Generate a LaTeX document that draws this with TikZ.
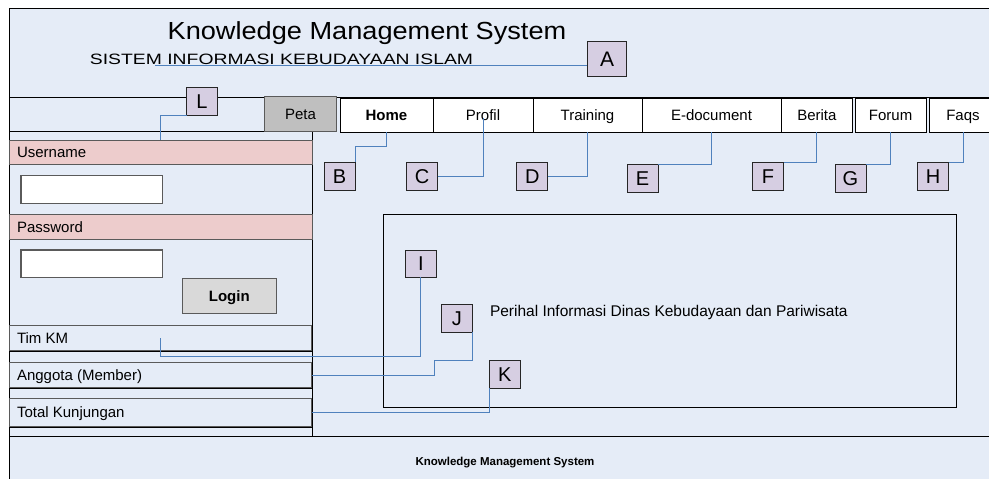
\documentclass[tikz,border=0pt]{standalone}
\usepackage{graphicx}
\usepackage{fontspec}
\setmainfont{Liberation Sans}
\usetikzlibrary{calc}
\definecolor{bgblue}{RGB}{229,236,247}
\definecolor{pinkband}{RGB}{237,204,204}
\definecolor{lav}{RGB}{214,206,226}
\definecolor{petagray}{RGB}{191,191,191}
\definecolor{logingray}{RGB}{217,217,217}
\definecolor{connblue}{RGB}{79,129,189}
\definecolor{edgegray}{RGB}{90,90,90}
\begin{document}
\begin{tikzpicture}[x=1pt,y=-1pt,
  every node/.style={inner sep=0pt, outer sep=0pt},
  txt/.style={font=\fontsize{15}{18}\selectfont, text height=10.7pt, text depth=0pt},
  rule/.style={draw=black, line width=1pt},
  navbox/.style={draw=black, fill=white, line width=0.9pt, minimum height=34pt, txt},
  lbl/.style={draw=black!85, fill=lav, line width=1pt, minimum width=31pt, minimum height=28pt,
              font=\fontsize{20}{20}\selectfont, text height=14.3pt, text depth=0pt},
  conn/.style={draw=connblue, line width=0.9pt},
  band/.style={draw=edgegray, fill=pinkband, line width=1pt, minimum width=303pt, minimum height=24.7pt},
  inbox/.style={draw=edgegray, fill=white, line width=1.2pt, minimum width=141.3pt, minimum height=27.6pt},
  stat/.style={draw=edgegray, line width=1pt, minimum width=302.7pt},
]
\useasboundingbox (0,0) rectangle (989,479);
\clip (0,0) rectangle (989,479);

% frame
\fill[bgblue] (9.3,8.3) rectangle (1000,490);
\draw[rule] (9.3,8.3) rectangle (1000,490);
\draw[rule] (9.3,97.7) -- (989,97.7);
\draw[rule] (9.3,131.7) -- (312,131.7);
\draw[rule] (312,131.7) -- (312,436.7);
\draw[rule] (9.3,436.7) -- (989,436.7);

% header texts
\node[anchor=base, font=\fontsize{24.7}{28}\selectfont] (title) at (367,39.3)
  {\scalebox{1.1}[1]{Knowledge Management System}};
\coordinate (aend) at (155,65.5);
\node[lbl, minimum width=39.4pt, minimum height=35pt, font=\fontsize{21}{21}\selectfont, text height=15pt] (A) at (607,58.5) {A};
\draw[conn] (aend) -- (aend -| A.west);
\node[anchor=base, font=\fontsize{15}{18}\selectfont] (subtitle) at (281.5,64)
  {\scalebox{1.29}[1]{SISTEM INFORMASI KEBUDAYAAN ISLAM}};

% navigation
\node[navbox, fill=petagray, draw=edgegray, minimum width=72.4pt, minimum height=35pt] (peta) at (300.5,114.2) {Peta};
\node[navbox, minimum width=93pt] (home) at (386.5,115) {\bfseries Home};
\node[navbox, minimum width=100pt] (profil) at (483,115) {Profil};
\node[navbox, minimum width=109pt] (training) at (587.5,115) {Training};
\node[navbox, minimum width=139pt] (edoc) at (711.5,115) {E-document};
\node[navbox, minimum width=71.7pt] (berita) at (816.85,115) {Berita};
\node[navbox, minimum width=70.7pt] (forum) at (890.65,115) {Forum};
\node[navbox, minimum width=68pt] (faqs) at (963,115) {Faqs};

% left panel
\node[band] (user) at (160.5,152.35) {};
\node[txt, anchor=west] (usertxt) at ([xshift=8pt]user.west) {Username};
\node[inbox] (userin) at (91.65,189.5) {};
\node[band] (pass) at (160.5,226.65) {};
\node[txt, anchor=west] (passtxt) at ([xshift=8pt]pass.west) {Password};
\node[inbox] (passin) at (91.65,263.85) {};
\node[draw=edgegray, fill=logingray, line width=1.2pt, minimum width=94pt, minimum height=35pt, txt] (login) at (229.3,295.8) {\bfseries Login};

\node[stat, minimum height=24.3pt] (timkm) at (160.35,337.85) {};
\node[txt, anchor=west] (timkmtxt) at ([xshift=8pt]timkm.west) {Tim KM};
\node[stat, minimum height=24.6pt] (anggota) at (160.35,375) {};
\node[txt, anchor=west] (anggotatxt) at ([xshift=8pt]anggota.west) {Anggota (Member)};
\node[stat, minimum height=27.3pt] (total) at (160.35,412.35) {};
\node[txt, anchor=west] (totaltxt) at ([xshift=8pt]total.west) {Total Kunjungan};
\draw[rule] (9.3,351.2) -- (312,351.2);
\draw[rule] (9.3,388.6) -- (312,388.6);
\draw[rule] (9.3,427) -- (312,427);

% content
\node[draw=black, line width=1pt, minimum width=573pt, minimum height=193pt] (content) at (670,310.5) {};
\node[anchor=west, font=\fontsize{15.5}{18}\selectfont, text height=11pt, text depth=0pt] (perihal) at (490,310.5)
  {Perihal Informasi Dinas Kebudayaan dan Pariwisata};

% footer
\node[anchor=base, font=\bfseries\fontsize{11.5}{13}\selectfont] (footer) at (505,465) {Knowledge Management System};

% labels
\node[lbl] (L) at (202,101.3) {L};
\node[lbl] (B) at (339.5,176) {B};
\node[lbl] (C) at (422.2,176) {C};
\node[lbl] (D) at (532.4,176) {D};
\node[lbl, minimum height=27.6pt] (E) at (642.5,178.5) {E};
\node[lbl] (F) at (768,176) {F};
\node[lbl, minimum height=27.6pt] (G) at (850.5,178.5) {G};
\node[lbl] (H) at (933,176) {H};
\node[lbl, minimum width=30.5pt, minimum height=27pt] (I) at (420.8,263.5) {I};
\node[lbl, minimum width=30.5pt] (J) at (456.8,318) {J};
\node[lbl, minimum width=31.4pt] (K) at (504.7,374) {K};

% connectors
\draw[conn] (L.south west) -| (user.north -| 160.7,0);
\draw[conn] (home.south) -- (home.south |- 0,146) -| (B.north east);
\draw[conn] (C.east) -| (profil.center |- 0,118);
\draw[conn] (D.east) -| (training.south);
\draw[conn] (E.north east) -| (edoc.south);
\draw[conn] (F.north east) -| (berita.south);
\draw[conn] (G.north east) -| (forum.south);
\draw[conn] (H.north east) -| (faqs.south);
\coordinate (iend) at (160.5,338);
\draw[conn] (I.south) |- (iend |- 0,356.5) -- (iend);
\draw[conn] (J.south east) |- (434.5,360.5) |- (anggota.east);
\draw[conn] (K.south west) |- (total.east);
\end{tikzpicture}
\end{document}
